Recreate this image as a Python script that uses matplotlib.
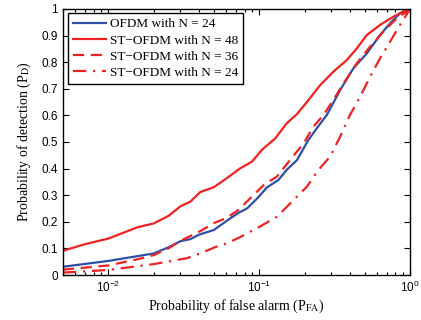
import matplotlib
matplotlib.use('Agg')
import matplotlib.pyplot as plt

# P_FA / P_D pairs
ofdm24_pfa = [0.005, 0.01, 0.02, 0.025, 0.03, 0.035, 0.04, 0.05, 0.061, 0.073, 0.083, 0.097,
              0.113, 0.134, 0.152, 0.178, 0.212, 0.247, 0.281, 0.344, 0.421, 0.517, 0.633,
              0.737, 0.858, 1.0]
ofdm24_pd = [0.031, 0.053, 0.081, 0.104, 0.127, 0.135, 0.152, 0.169, 0.204, 0.234, 0.25, 0.288,
             0.33, 0.357, 0.395, 0.432, 0.508, 0.56, 0.602, 0.695, 0.777, 0.833, 0.902,
             0.946, 0.984, 1.0]

st48_pfa = [0.005, 0.0069, 0.01, 0.0126, 0.0155, 0.02, 0.025, 0.03, 0.035, 0.0407, 0.05, 0.061,
            0.0748, 0.0895, 0.104, 0.128, 0.152, 0.178, 0.207, 0.254, 0.31, 0.381, 0.444,
            0.517, 0.633, 0.776, 0.95, 1.0]
st48_pd = [0.091, 0.115, 0.137, 0.159, 0.179, 0.194, 0.222, 0.258, 0.276, 0.312, 0.33, 0.364,
           0.401, 0.426, 0.47, 0.514, 0.57, 0.605, 0.65, 0.714, 0.764, 0.808, 0.852,
           0.902, 0.94, 0.971, 0.996, 1.0]

st36_pfa = [0.005, 0.01, 0.0164, 0.02, 0.025, 0.03, 0.0407, 0.05, 0.061, 0.073, 0.087, 0.107,
            0.131, 0.16, 0.197, 0.229, 0.267, 0.31, 0.362, 0.444, 0.543, 0.666, 0.817, 0.95, 1.0]
st36_pd = [0.02, 0.036, 0.062, 0.075, 0.1, 0.128, 0.165, 0.195, 0.215, 0.245, 0.288, 0.338,
           0.37, 0.432, 0.495, 0.558, 0.602, 0.658, 0.72, 0.796, 0.858, 0.915, 0.965, 0.99, 1.0]

st24_pfa = [0.005, 0.01, 0.02, 0.033, 0.0407, 0.0517, 0.061, 0.075, 0.101, 0.131, 0.169, 0.207,
            0.247, 0.295, 0.344, 0.4, 0.467, 0.543, 0.633, 0.737, 0.858, 0.975, 1.0]
st24_pd = [0.009, 0.019, 0.041, 0.063, 0.081, 0.106, 0.119, 0.143, 0.182, 0.219, 0.282, 0.332,
           0.395, 0.445, 0.52, 0.602, 0.67, 0.745, 0.815, 0.877, 0.94, 0.99, 1.0]

labels = ['OFDM with N = 24', 'ST\u2212OFDM with N = 48',
          'ST\u2212OFDM with N = 36', 'ST\u2212OFDM with N = 24']
yticks = [0, 0.1, 0.2, 0.3, 0.4, 0.5, 0.6, 0.7, 0.8, 0.9, 1]

blue = '#2f4fa8'
red = '#ee2222'

plt.rcParams['mathtext.fontset'] = 'stix'
serif = 'Liberation Serif'
sans = 'Liberation Sans'

fig = plt.figure(figsize=(4.21, 3.2), dpi=100)
ax = fig.add_axes([0.1496, 0.1406, 0.8244, 0.8314])

ax.plot(ofdm24_pfa, ofdm24_pd, color=blue, lw=1.6, label=labels[0])
ax.plot(st48_pfa, st48_pd, color=red, lw=1.6, label=labels[1])
ax.plot(st36_pfa, st36_pd, color=red, lw=1.6, dashes=(5, 3), label=labels[2])
ax.plot(st24_pfa, st24_pd, color=red, lw=1.6, dashes=(6, 3, 1, 3), label=labels[3])

ax.set_xscale('log')
ax.set_xlim(0.005, 1)
ax.set_ylim(0, 1)
ax.set_yticks(yticks)
ax.set_yticklabels([('%g' % t) for t in yticks])
ax.tick_params(which='both', direction='in', top=True, right=True, labelsize=8.5, width=0.8)
ax.tick_params(which='major', length=4)
ax.tick_params(which='minor', length=2)
for lab in ax.get_xticklabels() + ax.get_yticklabels():
    lab.set_fontfamily(sans)
for s in ax.spines.values():
    s.set_linewidth(1.0)

ax.set_xlabel('Probability of false alarm (P$_{\\mathrm{FA}}$)', fontfamily=serif, fontsize=10, labelpad=2)
ax.set_ylabel('Probability of detection (P$_{\\mathrm{D}}$)', fontfamily=serif, fontsize=10, labelpad=6)

leg = ax.legend(loc='upper left', bbox_to_anchor=(0.0135, 0.985), borderaxespad=0,
                prop={'family': serif, 'size': 9.5}, fancybox=False, framealpha=1,
                edgecolor='black', handlelength=2.5, handletextpad=0.3,
                labelspacing=0.3, borderpad=0.4)
leg.get_frame().set_linewidth(1.0)

fig.savefig('out.png', dpi=100)
